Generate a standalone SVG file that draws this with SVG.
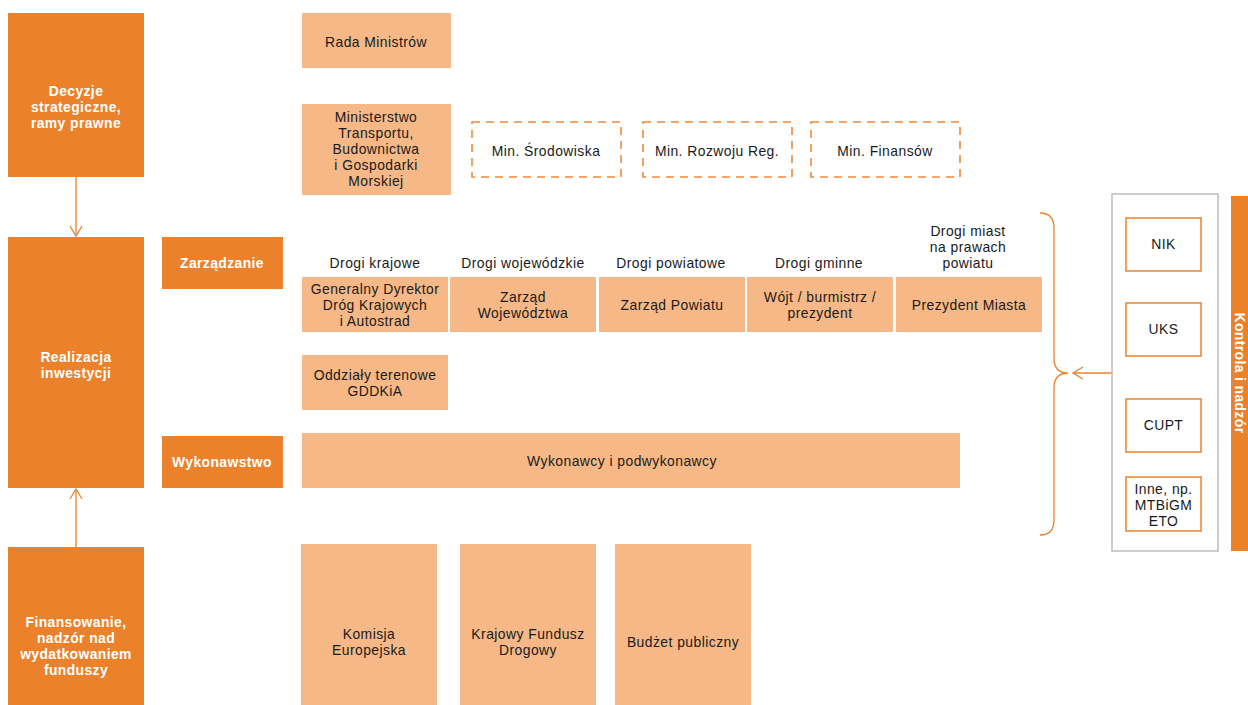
<svg xmlns="http://www.w3.org/2000/svg" width="1248" height="705" viewBox="0 0 1248 705">
<style>
.dark{fill:#EC812B}
.light{fill:#F5B886}
.dash{fill:none;stroke:#F0893A;stroke-width:1.6;stroke-dasharray:8,6}
.ob{fill:#fff;stroke:#EC812B;stroke-width:1.5}
.gray{fill:#fff;stroke:#BDBDBD;stroke-width:1.5}
text{font-family:"Liberation Sans",Arial,sans-serif;font-size:13.9px;letter-spacing:0.45px;text-anchor:middle;fill:#1a1a1a}
.w{fill:#fff;font-weight:bold;letter-spacing:0.4px}
.con{fill:none;stroke:#EC812B;stroke-width:1.3}
</style>
<defs>
<marker id="ah" markerWidth="12" markerHeight="14" refX="11" refY="7" orient="auto" markerUnits="userSpaceOnUse">
<path d="M1,1 L11,7 L1,13" fill="none" stroke="#EC812B" stroke-width="1.3"/>
</marker>
</defs>
<g id="connectors">
<line class="con" x1="76" y1="177" x2="76" y2="236" marker-end="url(#ah)"/>
<line class="con" x1="76" y1="547" x2="76" y2="489" marker-end="url(#ah)"/>
<line class="con" x1="1112" y1="373" x2="1073" y2="373" marker-end="url(#ah)"/>
<path class="con" d="M1040,213 Q1054,213 1054,228 L1054,358 Q1054,373 1068,373 Q1054,373 1054,388 L1054,520 Q1054,535 1040,535"/>
</g>
<g id="decyzje"><rect class="dark" x="8" y="13" width="136" height="164"/>
<text class="w" x="76" y="96">Decyzje</text><text class="w" x="76" y="112">strategiczne,</text><text class="w" x="76" y="128">ramy prawne</text></g>
<g id="realizacja"><rect class="dark" x="8" y="237" width="136" height="251"/>
<text class="w" x="76" y="362">Realizacja</text><text class="w" x="76" y="378">inwestycji</text></g>
<g id="finansowanie"><rect class="dark" x="8" y="547" width="136" height="158"/>
<text class="w" x="76" y="627">Finansowanie,</text><text class="w" x="76" y="643">nadzór nad</text><text class="w" x="76" y="659">wydatkowaniem</text><text class="w" x="76" y="675">funduszy</text></g>
<g id="zarzadzanie"><rect class="dark" x="162" y="237" width="121" height="52"/><text class="w" x="222" y="268">Zarządzanie</text></g>
<g id="wykonawstwo"><rect class="dark" x="162" y="436" width="121" height="52"/><text class="w" x="222" y="467">Wykonawstwo</text></g>
<g id="rada"><rect class="light" x="302" y="13" width="149" height="55"/><text x="376" y="47">Rada Ministrów</text></g>
<g id="ministerstwo"><rect class="light" x="302" y="104" width="149" height="91"/>
<text x="376" y="122">Ministerstwo</text><text x="376" y="138">Transportu,</text><text x="376" y="154">Budownictwa</text><text x="376" y="170">i Gospodarki</text><text x="376" y="186">Morskiej</text></g>
<g id="srodowisko"><rect class="dash" x="472" y="122" width="149" height="55"/><text x="546" y="156">Min. Środowiska</text></g>
<g id="rozwoj"><rect class="dash" x="643" y="122" width="149" height="55"/><text x="717" y="156">Min. Rozwoju Reg.</text></g>
<g id="finanse"><rect class="dash" x="811" y="122" width="149" height="55"/><text x="885" y="156">Min. Finansów</text></g>
<g id="headings">
<text x="375" y="268">Drogi krajowe</text>
<text x="523" y="268">Drogi wojewódzkie</text>
<text x="671" y="268">Drogi powiatowe</text>
<text x="819" y="268">Drogi gminne</text>
<text x="968" y="236">Drogi miast</text><text x="968" y="252">na prawach</text><text x="968" y="268">powiatu</text>
</g>
<g id="gddkia"><rect class="light" x="302" y="277" width="146" height="55"/>
<text x="375" y="294">Generalny Dyrektor</text><text x="375" y="310">Dróg Krajowych</text><text x="375" y="326">i Autostrad</text></g>
<g id="wojewodztwo"><rect class="light" x="450" y="277" width="146" height="55"/>
<text x="523" y="302">Zarząd</text><text x="523" y="318">Województwa</text></g>
<g id="powiat"><rect class="light" x="599" y="277" width="146" height="55"/><text x="672" y="310">Zarząd Powiatu</text></g>
<g id="wojt"><rect class="light" x="747" y="277" width="146" height="55"/>
<text x="820" y="302">Wójt / burmistrz /</text><text x="820" y="318">prezydent</text></g>
<g id="prezydent"><rect class="light" x="896" y="277" width="146" height="55"/><text x="969" y="310">Prezydent Miasta</text></g>
<g id="oddzialy"><rect class="light" x="302" y="355" width="146" height="55"/>
<text x="375" y="380">Oddziały terenowe</text><text x="375" y="396">GDDKiA</text></g>
<g id="wykonawcy"><rect class="light" x="302" y="433" width="658" height="55"/><text x="622" y="466">Wykonawcy i podwykonawcy</text></g>
<g id="komisja"><rect class="light" x="301" y="544" width="136" height="161"/>
<text x="369" y="639">Komisja</text><text x="369" y="655">Europejska</text></g>
<g id="kfd"><rect class="light" x="460" y="544" width="136" height="161"/>
<text x="528" y="639">Krajowy Fundusz</text><text x="528" y="655">Drogowy</text></g>
<g id="budzet"><rect class="light" x="615" y="544" width="136" height="161"/><text x="683" y="647">Budżet publiczny</text></g>
<g id="kontrola-box"><rect class="gray" x="1112" y="194" width="106" height="357"/></g>
<g id="nik"><rect class="ob" x="1126" y="218" width="75" height="53"/><text x="1163.5" y="249">NIK</text></g>
<g id="uks"><rect class="ob" x="1126" y="303" width="75" height="53"/><text x="1163.5" y="334">UKS</text></g>
<g id="cupt"><rect class="ob" x="1126" y="399" width="75" height="53"/><text x="1163.5" y="430">CUPT</text></g>
<g id="inne"><rect class="ob" x="1126" y="477" width="75" height="54"/>
<text x="1163.5" y="494">Inne, np.</text><text x="1163.5" y="510">MTBiGM</text><text x="1163.5" y="526">ETO</text></g>
<g id="kontrola"><rect class="dark" x="1231" y="196" width="17" height="355"/>
<text class="w" transform="translate(1234.5,373) rotate(90)" x="0" y="0">Kontrola i nadzór</text></g>
</svg>
